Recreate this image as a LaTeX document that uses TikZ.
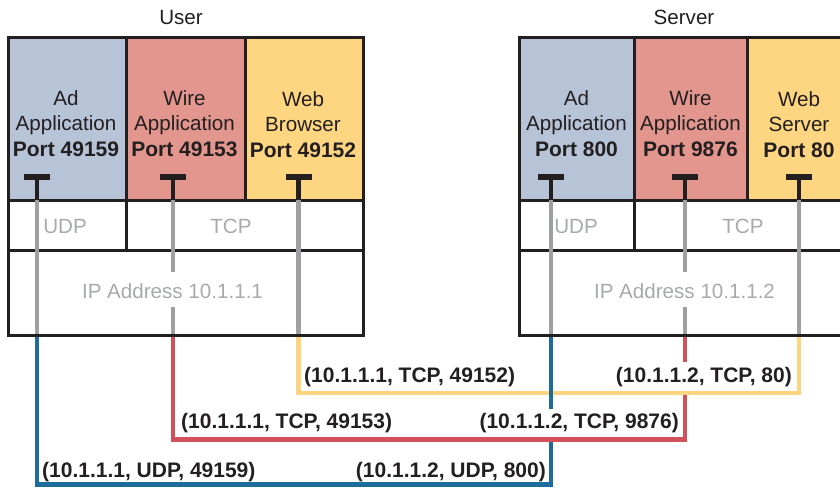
\documentclass[tikz,border=0pt]{standalone}
\usepackage{fontspec}
\setmainfont{Liberation Sans}
\definecolor{ink}{HTML}{231F20}
\definecolor{greytxt}{HTML}{A7A9AC}
\definecolor{greyline}{HTML}{9D9FA2}
\definecolor{adfill}{HTML}{B7C4D7}
\definecolor{wirefill}{HTML}{E3968D}
\definecolor{webfill}{HTML}{FED580}
\definecolor{bluel}{HTML}{1C6D9B}
\definecolor{redl}{HTML}{D2505A}
\definecolor{yellowl}{HTML}{FFD47E}
\tikzset{
  frame/.style={draw=ink, line width=3pt},
  tbar/.style={draw=ink, line width=5.5pt},
  tstem/.style={draw=ink, line width=4.5pt},
  greyconn/.style={draw=greyline, line width=4.5pt},
  conn/.style={line width=4.5pt, line join=miter},
  apptxt/.style={anchor=base, inner sep=0pt, text=ink, font=\fontsize{20.6}{24}\selectfont},
  portxt/.style={anchor=base, inner sep=0pt, text=ink, font=\fontsize{21}{24}\selectfont\bfseries},
  layertxt/.style={anchor=base, inner sep=0pt, text=greytxt, font=\fontsize{20.6}{24}\selectfont},
  lbl/.style={inner sep=0pt, text=ink, font=\fontsize{21}{24}\selectfont\bfseries},
}
\begin{document}
\begin{tikzpicture}[x=1pt,y=-1pt]
\useasboundingbox (0,0) rectangle (840,487);
\clip (0,0) rectangle (840,487);
% fills
\fill[adfill] (8,38) rectangle (126,200);
\fill[wirefill] (126,38) rectangle (245,200);
\fill[webfill] (245,38) rectangle (363,200);
\fill[adfill] (519,38) rectangle (634,200);
\fill[wirefill] (634,38) rectangle (747,200);
\fill[webfill] (747,38) rectangle (852,200);
% frames
\draw[frame] (8,38) rectangle (363,335);
\draw[frame] (8,200) -- (363,200);
\draw[frame] (8,250) -- (363,250);
\draw[frame] (126,38) -- (126,250);
\draw[frame] (245,38) -- (245,200);
\draw[frame] (519,38) rectangle (852,335);
\draw[frame] (519,200) -- (852,200);
\draw[frame] (519,250) -- (852,250);
\draw[frame] (634,38) -- (634,250);
\draw[frame] (747,38) -- (747,200);
% titles
\node[apptxt] (user) at (181,25) {User};
\node[apptxt] (server) at (684,25) {Server};
% user apps
\node[apptxt] (ua1) at (66,105) {Ad};
\node[apptxt] (ua2) at (66,130.5) {Application};
\node[portxt] (ua3) at (66,156) {Port 49159};
\node[apptxt] (uw1) at (184.5,105) {Wire};
\node[apptxt] (uw2) at (184.5,130.5) {Application};
\node[portxt] (uw3) at (184.5,156) {Port 49153};
\node[apptxt] (ub1) at (303,106) {Web};
\node[apptxt] (ub2) at (303,131.5) {Browser};
\node[portxt] (ub3) at (303,157) {Port 49152};
% server apps
\node[apptxt] (sa1) at (576.5,105) {Ad};
\node[apptxt] (sa2) at (576.5,130.5) {Application};
\node[portxt] (sa3) at (576.5,156) {Port 800};
\node[apptxt] (sw1) at (690.5,105) {Wire};
\node[apptxt] (sw2) at (690.5,130.5) {Application};
\node[portxt] (sw3) at (690.5,156) {Port 9876};
\node[apptxt] (ss1) at (799,106) {Web};
\node[apptxt] (ss2) at (799,131.5) {Server};
\node[portxt] (ss3) at (799,157) {Port 80};
% layers
\node[layertxt] (uudp) at (65,233) {UDP};
\node[layertxt] (utcp) at (231,233) {TCP};
\node[layertxt] (uip) at (172.5,298) {IP Address 10.1.1.1};
\node[layertxt] (sudp) at (576,233) {UDP};
\node[layertxt] (stcp) at (743,233) {TCP};
\node[layertxt] (sip) at (684.5,298) {IP Address 10.1.1.2};
% port coordinates
\coordinate (pUA) at (37,177);
\coordinate (pUW) at (173,177);
\coordinate (pUB) at (298.5,177);
\coordinate (pSA) at (551,177);
\coordinate (pSW) at (685,177);
\coordinate (pSS) at (799,177);
% grey lines through the stack
\foreach \p in {pUA,pUB,pSA,pSS}{
  \draw[greyconn] (\p) ++(0,23) -- ++(0,133.5);
}
\foreach \p in {pUW,pSW}{
  \draw[greyconn] (\p) ++(0,23) -- ++(0,72);
  \draw[greyconn] (\p) ++(0,130) -- ++(0,26.5);
}
% T marks
\foreach \p in {pUA,pUW,pUB,pSA,pSW,pSS}{
  \draw[tbar] (\p) ++(-13,0) -- ++(26,0);
  \draw[tstem] (\p) -- ++(0,23);
}
% connection coordinates
\coordinate (uAo) at (37,336.5);
\coordinate (uWo) at (173,336.5);
\coordinate (uBo) at (298.5,336.5);
\coordinate (sAo) at (551,336.5);
\coordinate (sWo) at (685,336.5);
\coordinate (sSo) at (799,336.5);
\coordinate (yC) at (799,393);
\coordinate (rC) at (685,439.5);
\coordinate (bC) at (551,484.5);
\coordinate (sAgap) at (551,409);
\coordinate (sAres) at (551,442);
\coordinate (sWgap) at (685,362);
\coordinate (sWres) at (685,395);
% yellow
\draw[conn, yellowl] (uBo) |- (yC) -- (sSo);
% blue
\draw[conn, bluel] (uAo) |- (bC) -- (sAres);
\draw[conn, bluel] (sAo) -- (sAgap);
% red
\draw[conn, redl] (uWo) |- (rC) -- (sWres);
\draw[conn, redl] (sWo) -- (sWgap);
% labels
\node[lbl, anchor=base west] (l1a) at (304,382) {(10.1.1.1, TCP, 49152)};
\node[lbl, anchor=base east] (l1b) at (792,382) {(10.1.1.2, TCP, 80)};
\node[lbl, anchor=base west] (l2a) at (181,428) {(10.1.1.1, TCP, 49153)};
\node[lbl, anchor=base east] (l2b) at (679,428) {(10.1.1.2, TCP, 9876)};
\node[lbl, anchor=base west] (l3a) at (42,477) {(10.1.1.1, UDP, 49159)};
\node[lbl, anchor=base east] (l3b) at (546,477) {(10.1.1.2, UDP, 800)};
\end{tikzpicture}
\end{document}
